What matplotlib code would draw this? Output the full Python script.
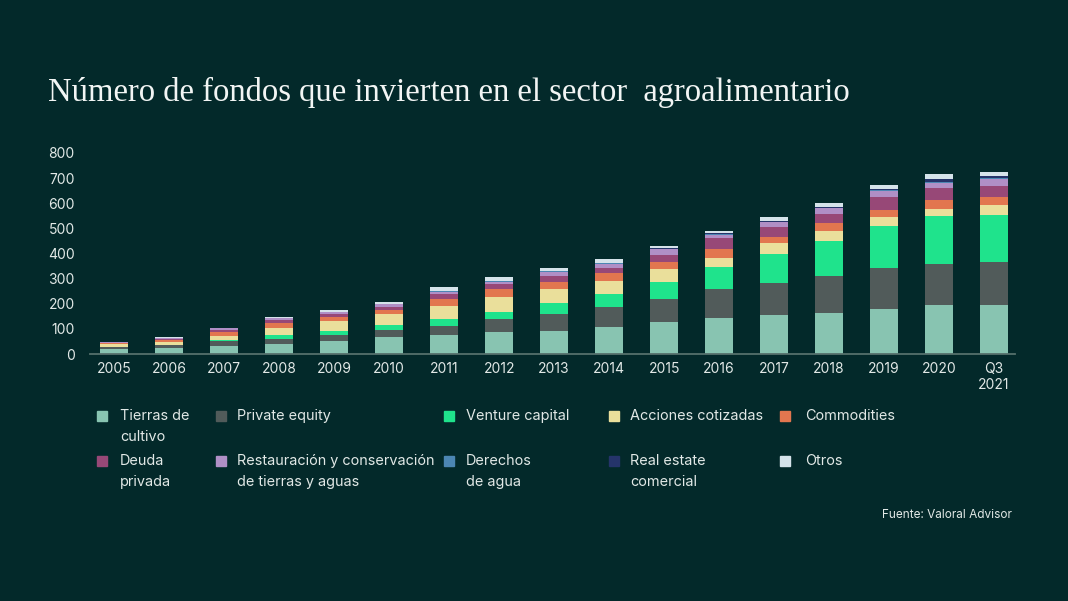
#!/usr/bin/env python3
"""
Stacked bars: number of funds investing in the agri-food sector, by fund type.
"""

import matplotlib.pyplot as plt
import matplotlib.patches as mpatches
import numpy as np

years = ["2005", "2006", "2007", "2008", "2009", "2010", "2011", "2012", "2013",
         "2014", "2015", "2016", "2017", "2018", "2019", "2020", "Q3\n2021"]

tierras = [20, 22, 30, 40, 52, 68, 76, 88, 92, 108, 128, 144, 156, 164, 180, 195, 195]
private_equity = [8, 12, 22, 20, 24, 28, 36, 52, 68, 80, 92, 116, 128, 148, 164, 165, 173]
venture = [0, 2, 5, 16, 16, 20, 28, 28, 44, 52, 68, 88, 116, 136, 164, 188, 184]
acciones = [10, 12, 15, 28, 40, 44, 52, 60, 56, 52, 52, 36, 40, 40, 36, 28, 40]
commodities = [4, 6, 16, 20, 16, 16, 28, 32, 28, 32, 28, 32, 24, 32, 28, 36, 32]
deuda = [3, 6, 8, 12, 12, 12, 20, 20, 24, 20, 28, 44, 40, 36, 52, 48, 44]
restauracion = [3, 4, 6, 6, 8, 12, 8, 8, 16, 16, 20, 12, 20, 24, 24, 20, 28]
derechos = [0, 0, 0, 0, 0, 0, 2, 2, 2, 2, 2, 4, 2, 2, 3, 4, 6]
real_estate = [0, 0, 0, 0, 0, 0, 2, 2, 2, 2, 2, 4, 2, 3, 4, 12, 7]
otros = [0, 2, 3, 4, 8, 8, 16, 14, 10, 14, 10, 8, 16, 15, 17, 20, 16]

series = [tierras, private_equity, venture, acciones, commodities,
          deuda, restauracion, derechos, real_estate, otros]
labels = ["Tierras de\ncultivo", "Private equity", "Venture capital",
          "Acciones cotizadas", "Commodities", "Deuda\nprivada",
          "Restauración y conservación\nde tierras y aguas", "Derechos\nde agua",
          "Real estate\ncomercial", "Otros"]
colors = ["#88c4b1", "#515b5a", "#1fe38c", "#eadf9b", "#e2764f",
          "#974877", "#b08fc6", "#4c86b3", "#25346a", "#d5e3ea"]

BG = "#03292a"
TXT = "#e1e8e6"
W, H = 1068, 601

plt.rcParams["font.family"] = ["Inter", "DejaVu Sans"]

fig = plt.figure(figsize=(W / 100, H / 100), dpi=100, facecolor=BG)
ax = fig.add_axes([90 / W, 1 - 354 / H, (1015 - 90) / W, (354 - 153) / H])
ax.set_facecolor(BG)

x = np.arange(len(years))
bottom = np.zeros(len(years))
for vals, col in zip(series, colors):
    ax.bar(x, vals, bottom=bottom, width=0.52, color=col, linewidth=0)
    bottom += np.array(vals)

ax.set_xlim(-0.44, 16.38)
ax.set_ylim(0, 800)
ax.set_yticks(range(0, 801, 100))
ax.set_xticks(x)
ax.set_xticklabels(years, linespacing=1.15)
ax.tick_params(axis="both", length=0, colors=TXT, labelsize=10)
ax.tick_params(axis="y", pad=11)
ax.tick_params(axis="x", pad=6)
for s in ["top", "right", "left"]:
    ax.spines[s].set_visible(False)
ax.spines["bottom"].set_color("#56706c")
ax.spines["bottom"].set_linewidth(1.3)

fig.text(48 / W, 1 - 92 / H, "Número de fondos que invierten en el sector  agroalimentario",
         family=["Liberation Serif", "DejaVu Serif"], fontsize=23.5, color="#f2f5f4",
         va="center", ha="left")

# legend laid out by hand in two rows
sq_x = [97, 216, 444, 609, 780]
txt_x = [120, 237, 466, 630, 805]
row_y = [409, 454]
sq = 10
for i, (lab, col) in enumerate(zip(labels, colors)):
    r, c = divmod(i, 5)
    cy = row_y[r] + 7
    fig.add_artist(mpatches.Rectangle(((sq_x[c]) / W, 1 - (cy + sq / 2) / H),
                                      sq / W, sq / H, color=col,
                                      transform=fig.transFigure))
    fig.text(txt_x[c] / W, 1 - row_y[r] / H, lab, color=TXT, fontsize=10.4,
             va="top", ha="left", linespacing=1.62)

fig.text(1012 / W, 1 - 515 / H, "Fuente: Valoral Advisor", color=TXT,
         fontsize=8.5, ha="right", va="center")

fig.savefig("out.png", dpi=100, facecolor=BG)
